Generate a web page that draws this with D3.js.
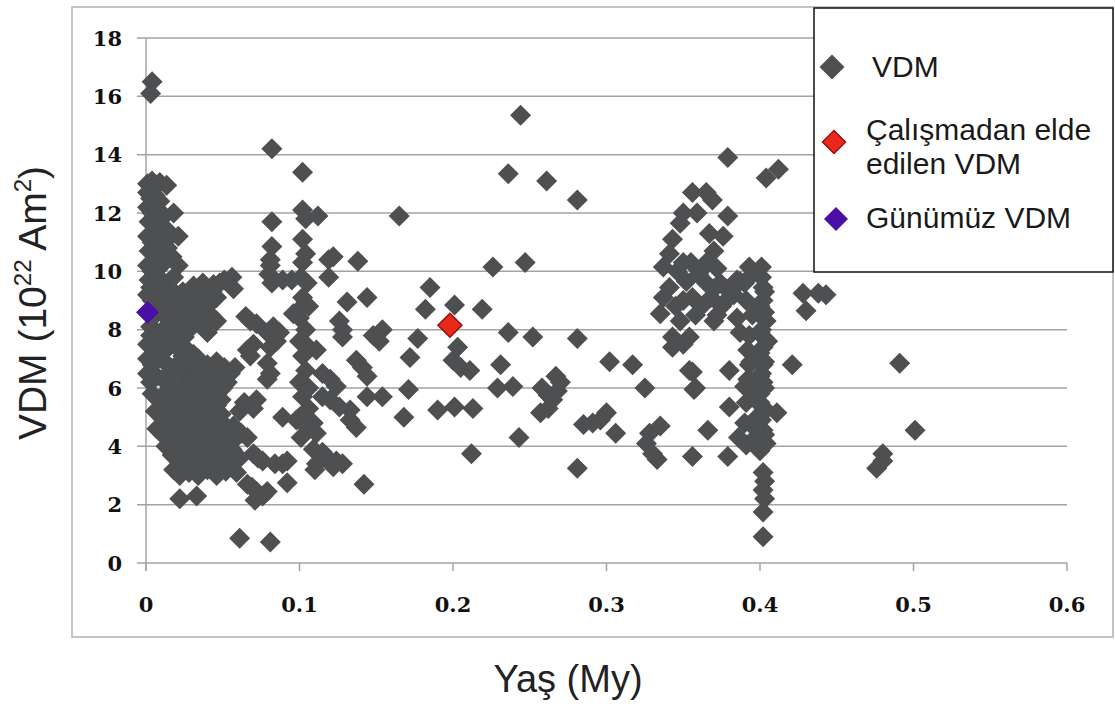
<!DOCTYPE html>
<html><head><meta charset="utf-8">
<script src="https://cdn.jsdelivr.net/npm/d3@7"></script>
<style>html,body{margin:0;padding:0;background:#fff;}svg{display:block;}</style>
</head><body>
<script>
const ageTicks = [0, 0.1, 0.2, 0.3, 0.4, 0.5, 0.6];
const ageTickLabels = ["0", "0.1", "0.2", "0.3", "0.4", "0.5", "0.6"];
const vdmTicks = [0, 2, 4, 6, 8, 10, 12, 14, 16, 18];

const legendLabels = ["VDM", ["Çalışmadan elde", "edilen VDM"], "Günümüz VDM"];

// [age (My), VDM (10^22 Am^2)]
const vdmBand0 = [
[0.004,16.5],[0.003,16.1],
[0.001,13.0],[0.004,13.1],[0.009,13.05],[0.0135,12.95],
[0.001,12.7],[0.003,12.5],[0.006,12.6],[0.009,12.4],
[0.001,12.2],[0.004,12.0],[0.008,12.1],[0.012,11.9],[0.018,12.0],
[0.002,11.7],[0.006,11.5],[0.010,11.6],[0.014,11.4],
[0.001,11.2],[0.004,11.0],[0.008,11.2],[0.012,11.0],[0.021,11.2],
[0.002,10.7],[0.006,10.5],[0.010,10.6],[0.014,10.8],[0.017,10.5],
[0.001,10.2],[0.004,10.0],[0.008,10.1],[0.012,10.3],[0.021,10.2],
[0.002,9.7],[0.006,9.5],[0.010,9.7],[0.014,9.6],[0.018,9.8],
[0.003,9.45],[0.007,9.25],[0.011,9.45],
[0.001,9.2],[0.004,9.0],[0.008,9.1],[0.012,9.3],[0.016,9.0],[0.020,9.2],
[0.006,8.5],[0.010,8.6],[0.014,8.4],[0.018,8.7],[0.008,8.8],
[0.003,8.1],[0.007,7.9],[0.011,8.0],[0.015,7.8],[0.019,8.0],
[0.001,7.5],[0.005,7.6],[0.009,7.4],[0.013,7.3],[0.018,7.5],[0.003,7.8],
[0.001,7.0],[0.004,6.8],[0.008,7.0],[0.012,6.9],[0.016,6.7],[0.006,7.2],
[0.001,6.5],[0.003,6.2],[0.007,6.4],[0.011,6.3],[0.015,6.1],[0.019,6.5],
[0.004,5.8],[0.008,5.6],[0.012,5.8],[0.016,5.5],[0.020,5.7],
[0.006,5.2],[0.010,5.0],[0.014,5.3],[0.018,5.0],
[0.007,4.6],[0.011,4.4],[0.015,4.6],[0.019,4.3],
[0.013,4.0],[0.017,3.7],[0.018,3.2]
];
const vdmBand1 = [
[0.024,9.3],[0.031,9.5],[0.037,9.6],[0.043,9.3],[0.048,9.6],[0.056,9.8],[0.057,9.4],
[0.026,9.05],[0.032,9.25],[0.038,9.05],[0.044,9.55],[0.051,9.7],
[0.022,8.8],[0.028,8.9],[0.034,9.0],[0.040,8.8],[0.046,9.1],
[0.027,8.6],[0.033,8.7],[0.039,8.55],
[0.024,8.4],[0.030,8.5],[0.036,8.4],[0.042,8.5],[0.046,8.3],
[0.021,8.3],[0.027,8.15],[0.033,8.25],[0.037,8.1],
[0.022,7.9],[0.028,8.0],[0.040,7.9],
[0.021,7.65],[0.025,7.75],
[0.022,7.4],[0.027,7.3],[0.024,7.1],[0.031,7.15],
[0.022,6.9],[0.028,6.8],[0.034,7.0],[0.040,6.8],[0.046,6.9],[0.051,6.7],[0.058,6.7],
[0.025,6.65],[0.031,6.55],[0.037,6.75],[0.043,6.6],[0.049,6.55],[0.055,6.5],
[0.023,6.4],[0.029,6.3],[0.035,6.5],[0.041,6.3],[0.047,6.4],[0.053,6.2],
[0.026,6.1],[0.032,6.15],[0.038,6.2],[0.044,6.1],[0.050,6.0],
[0.024,5.9],[0.030,5.8],[0.036,6.0],[0.042,5.8],[0.048,5.9],
[0.025,5.6],[0.031,5.55],[0.037,5.7],[0.043,5.6],[0.049,5.6],
[0.022,5.4],[0.028,5.3],[0.034,5.5],[0.040,5.3],[0.046,5.4],
[0.019,5.3],[0.025,5.15],[0.031,5.2],[0.037,5.25],[0.043,5.1],[0.049,5.1],
[0.025,4.9],[0.031,4.8],[0.037,5.0],[0.044,4.9],[0.050,4.8],[0.057,4.7],
[0.022,4.65],[0.028,4.6],[0.034,4.75],[0.040,4.6],[0.046,4.65],[0.052,4.6],
[0.024,4.4],[0.030,4.3],[0.036,4.5],[0.042,4.3],[0.048,4.4],[0.053,4.45],[0.057,4.2],
[0.021,4.15],[0.027,4.1],[0.033,4.2],[0.039,4.05],[0.045,4.15],[0.051,4.1],[0.055,4.35],
[0.021,3.9],[0.026,3.8],[0.032,4.0],[0.038,3.8],[0.044,3.9],[0.050,3.8],[0.056,3.9],[0.061,3.6],
[0.019,3.65],[0.027,3.55],[0.033,3.7],[0.039,3.6],[0.045,3.65],[0.051,3.6],[0.057,3.45],
[0.024,3.3],[0.030,3.4],[0.036,3.5],[0.042,3.3],[0.048,3.4],[0.054,3.5],
[0.022,3.0],[0.028,3.1],[0.034,3.0],[0.040,3.2],[0.046,3.0],[0.059,3.1],[0.052,3.15],
[0.022,2.2],[0.033,2.3],
[0.061,0.85],[0.081,0.72],
[0.066,2.7],[0.071,2.15],[0.072,2.45],[0.079,2.45],[0.069,2.6],[0.076,2.3],
[0.070,3.75],[0.076,3.5],[0.073,3.6],[0.084,3.4],[0.089,3.4],[0.092,3.5],[0.092,2.75],
[0.089,5.0],
[0.061,5.2],[0.064,5.5],[0.070,5.3],[0.072,5.6],
[0.048,4.7],[0.058,4.55],[0.066,4.3],[0.062,4.45],
[0.079,6.85],[0.081,6.5],[0.079,6.3],
[0.068,7.1],[0.066,7.3],[0.070,7.5],
[0.079,7.9],[0.083,8.1],[0.087,7.9],[0.085,7.6],[0.081,7.4],
[0.065,8.45],[0.068,8.3],[0.072,8.2],
[0.096,8.55],[0.100,8.7],
[0.082,14.2],[0.082,11.7],
[0.082,10.85],[0.081,10.4],[0.080,9.9],[0.082,9.6],[0.081,10.2],
[0.089,9.7],[0.095,9.7]
];
const vdmBand2 = [
[0.102,13.4],[0.102,12.1],[0.104,11.8],[0.112,11.9],[0.102,11.1],[0.102,10.3],[0.104,10.6],[0.101,9.8],[0.105,9.6],
[0.119,10.4],[0.122,10.5],[0.119,9.8],[0.138,10.35],
[0.102,9.1],[0.106,8.8],[0.100,8.4],[0.104,8.0],[0.100,7.6],[0.106,7.4],[0.111,7.3],[0.102,7.1],[0.104,6.6],[0.100,6.2],[0.106,6.0],[0.102,5.7],[0.106,5.3],[0.100,5.0],[0.098,4.9],[0.104,4.7],[0.109,4.8],[0.111,4.45],[0.101,4.3],
[0.109,3.9],[0.111,3.4],[0.115,3.8],[0.118,3.6],[0.122,3.3],[0.124,3.5],[0.128,3.4],[0.110,3.2],
[0.142,2.7],
[0.115,6.5],[0.120,6.3],[0.124,6.05],[0.115,5.7],[0.120,5.6],[0.126,5.35],[0.133,5.25],[0.133,4.9],[0.137,4.65],
[0.126,8.3],[0.128,8.0],[0.128,7.75],
[0.137,6.95],[0.141,6.7],[0.144,6.4],
[0.131,8.95],[0.144,9.1],
[0.154,8.0],[0.152,7.6],[0.148,7.8],
[0.144,5.7],[0.154,5.7],
[0.168,5.0],[0.171,5.95],
[0.165,11.9],
[0.177,7.7],[0.172,7.05],
[0.185,9.45],[0.182,8.7],[0.201,8.85],
[0.203,7.4],[0.200,6.95],[0.205,6.7],[0.211,6.6],
[0.190,5.25],[0.201,5.35],[0.213,5.3],
[0.212,3.75]
];
const vdmBand3 = [
[0.219,8.7],
[0.244,15.35],[0.236,13.35],[0.261,13.1],[0.281,12.45],[0.226,10.15],[0.247,10.3],
[0.236,7.9],[0.252,7.75],[0.281,7.7],
[0.231,6.8],[0.229,6.0],[0.239,6.05],[0.258,6.0],[0.267,6.4],[0.265,5.6],[0.257,5.15],[0.262,5.3],[0.268,5.9],[0.262,5.75],[0.270,6.2],
[0.243,4.3],
[0.281,3.25],
[0.302,6.9],[0.317,6.8],[0.325,6.0],
[0.285,4.75],[0.291,4.8],[0.296,4.9],[0.300,5.15],[0.306,4.45],
[0.328,4.45],[0.335,4.7],[0.326,4.1],[0.330,3.75]
];
const vdmBand4 = [
[0.356,3.65],[0.379,3.65],[0.366,4.55],[0.380,5.35],[0.391,4.05],
[0.356,6.55],[0.358,6.0],
[0.379,13.9],[0.404,13.2],[0.412,13.5],
[0.356,12.7],[0.365,12.7],[0.369,12.45],[0.350,12.0],[0.359,12.0],[0.379,11.9],[0.348,11.65],[0.367,11.3],[0.376,11.2],[0.343,11.1],[0.341,10.6],[0.370,10.7],[0.337,10.15],[0.361,10.0],[0.372,10.1],[0.393,10.15],[0.401,10.15],
[0.341,9.45],[0.352,9.65],[0.365,9.6],[0.374,9.6],[0.387,9.65],[0.402,9.45],
[0.337,9.1],[0.356,9.1],[0.380,9.1],[0.391,9.0],[0.402,9.0],
[0.428,9.25],[0.438,9.25],[0.443,9.2],[0.430,8.65],
[0.335,8.55],[0.348,8.3],[0.370,8.3],[0.385,8.4],[0.404,8.3],[0.395,8.5],
[0.343,7.75],[0.354,7.75],[0.387,7.9],[0.400,7.9],[0.405,7.6],
[0.343,7.4],[0.350,7.5],[0.402,7.4],[0.398,7.1],
[0.354,6.6],[0.380,6.6],[0.393,6.8],[0.402,6.8],[0.400,6.4],[0.421,6.8],
[0.357,5.95],[0.390,6.05],[0.402,6.2],[0.397,5.6],[0.400,5.8],
[0.402,5.35],[0.411,5.15],[0.398,5.0],
[0.390,4.8],[0.402,4.55],[0.397,4.3],[0.404,4.1],[0.386,4.3],
[0.333,3.55],[0.400,3.85],
[0.402,3.1],[0.403,2.8],[0.402,2.5],[0.403,2.2],[0.402,1.75],[0.402,0.9],
[0.401,9.8],[0.403,9.3],[0.400,8.8],[0.403,8.6],[0.401,8.0],[0.403,7.7],[0.400,7.2],[0.403,6.9],[0.401,6.5],[0.403,6.0],[0.400,5.5],[0.403,5.2],[0.401,4.9],[0.403,4.4],[0.400,4.0],[0.397,4.6],
[0.392,7.3],[0.394,6.9],[0.392,6.3],[0.395,5.9],[0.391,5.5],[0.393,7.8],
[0.355,10.3],[0.360,9.9],[0.365,10.3],[0.368,9.1],[0.362,8.8],[0.375,8.8],[0.345,8.8],[0.350,9.0],[0.358,8.5],[0.378,9.4],[0.383,9.2],[0.385,9.7],[0.390,9.6],[0.395,9.9],[0.346,10.0],[0.350,10.3],[0.370,9.4],[0.372,8.5],
[0.476,3.25],[0.480,3.5],[0.480,3.75],[0.491,6.85],[0.501,4.55]
];
const studyVdm = [[0.198, 8.15]];
const presentVdm = [[0.001, 8.6]];

const W = 1115, H = 711;
const svg = d3.select("body").append("svg").attr("width", W).attr("height", H);

const x = d3.scaleLinear().domain([0, 0.6]).range([146, 1067]);
const y = d3.scaleLinear().domain([0, 18]).range([563, 38]);

// outer chart border
svg.append("rect").attr("x", 72).attr("y", 7).attr("width", 1041).attr("height", 630)
  .attr("fill", "#fff").attr("stroke", "#c4c4c4").attr("stroke-width", 2);

const gridColor = "#a3a3a3";
svg.append("g").selectAll("line").data(vdmTicks).join("line")
  .attr("x1", x(0) - 9).attr("x2", x(0.6))
  .attr("y1", d => y(d)).attr("y2", d => y(d))
  .attr("stroke", gridColor).attr("stroke-width", 1.5);
svg.append("line").attr("x1", x(0)).attr("x2", x(0)).attr("y1", y(18)).attr("y2", y(0) + 8)
  .attr("stroke", gridColor).attr("stroke-width", 1.5);
svg.append("g").selectAll("line").data(ageTicks).join("line")
  .attr("x1", d => x(d)).attr("x2", d => x(d)).attr("y1", y(0)).attr("y2", y(0) + 8)
  .attr("stroke", gridColor).attr("stroke-width", 1.5);

const tickFont = "'DejaVu Serif', serif";
svg.append("g").selectAll("text").data(vdmTicks).join("text")
  .attr("x", 122).attr("y", d => y(d) + 7.5).attr("text-anchor", "end")
  .attr("font-family", tickFont).attr("font-weight", "bold").attr("font-size", 21)
  .attr("fill", "#111").text(d => d);
svg.append("g").selectAll("text").data(ageTicks).join("text")
  .attr("x", d => x(d)).attr("y", 612).attr("text-anchor", "middle")
  .attr("font-family", tickFont).attr("font-weight", "bold").attr("font-size", 21)
  .attr("fill", "#111").text((d, i) => ageTickLabels[i]);

const titleFont = "'Liberation Sans', Arial, sans-serif";
svg.append("text").attr("x", 568).attr("y", 692).attr("text-anchor", "middle")
  .attr("font-family", titleFont).attr("font-size", 38).attr("fill", "#222").text("Yaş (My)");
const yt = svg.append("text").attr("transform", "translate(46,303) rotate(-90)")
  .attr("text-anchor", "middle").attr("font-family", titleFont).attr("font-size", 39).attr("fill", "#222");
yt.append("tspan").text("VDM (10");
yt.append("tspan").attr("font-size", 24).attr("dy", -15).text("22");
yt.append("tspan").attr("dy", 15).text(" Am");
yt.append("tspan").attr("font-size", 24).attr("dy", -15).text("2");
yt.append("tspan").attr("dy", 15).text(")");

const diamond = r => `M0,${-r}L${r},0L0,${r}L${-r},0Z`;
const grayPts = [].concat(vdmBand0, vdmBand1, vdmBand2, vdmBand3, vdmBand4);
const gray = "#4e4f51";
svg.append("g").selectAll("path").data(grayPts).join("path")
  .attr("d", diamond(10.5)).attr("transform", d => `translate(${x(d[0])},${y(d[1])})`)
  .attr("fill", gray);
svg.append("g").selectAll("path").data(studyVdm).join("path")
  .attr("d", diamond(12)).attr("transform", d => `translate(${x(d[0])},${y(d[1])})`)
  .attr("fill", "#e8291c").attr("stroke", "#9a0d0d").attr("stroke-width", 1.5);
svg.append("g").selectAll("path").data(presentVdm).join("path")
  .attr("d", diamond(11.5)).attr("transform", d => `translate(${x(d[0])},${y(d[1])})`)
  .attr("fill", "#4a0fa6");

const lg = svg.append("g");
lg.append("rect").attr("x", 814).attr("y", 8).attr("width", 299).attr("height", 264)
  .attr("fill", "#fff").attr("stroke", "#111").attr("stroke-width", 1.5);
lg.append("path").attr("d", diamond(12.5)).attr("transform", "translate(832,67)").attr("fill", gray);
lg.append("path").attr("d", diamond(11.5)).attr("transform", "translate(834,142)")
  .attr("fill", "#e8291c").attr("stroke", "#9a0d0d").attr("stroke-width", 1.5);
lg.append("path").attr("d", diamond(12)).attr("transform", "translate(836,219)").attr("fill", "#4a0fa6");
const lt = (tx, ty, s) => lg.append("text").attr("x", tx).attr("y", ty)
  .attr("font-family", titleFont).attr("font-size", 30).attr("fill", "#1a1a1a").text(s);
lt(872, 77, legendLabels[0]);
lt(866, 140, legendLabels[1][0]);
lt(866, 174, legendLabels[1][1]);
lt(866, 228, legendLabels[2]);
</script>
</body></html>
